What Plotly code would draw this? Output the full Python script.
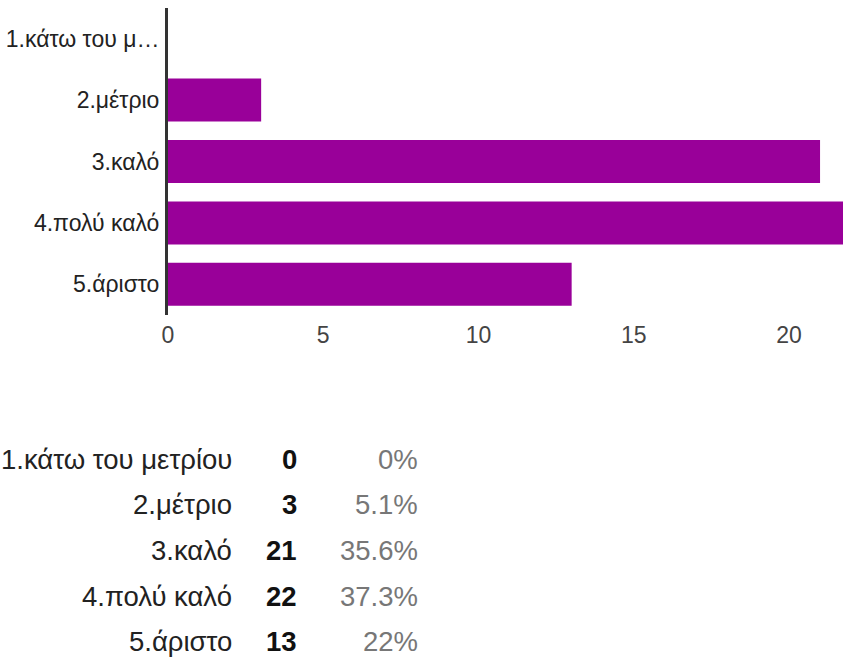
import plotly.graph_objects as go

categories = ["1.κάτω του μετρίου", "2.μέτριο", "3.καλό", "4.πολύ καλό", "5.άριστο"]
axis_labels = ["1.κάτω του μ…", "2.μέτριο", "3.καλό", "4.πολύ καλό", "5.άριστο"]
counts = [0, 3, 21, 22, 13]
percents = ["0%", "5.1%", "35.6%", "37.3%", "22%"]
x_ticks = [0, 5, 10, 15, 20]

W, H = 843, 660
L, R, T, B = 168, 0, 8, 660 - 315
PW, PH = W - L - R, H - T - B

def px_x(p):
    return (p - L) / PW

def px_y(p):
    return (H - B - p) / PH

FONT = "Liberation Sans, Arial, sans-serif"

fig = go.Figure(go.Bar(
    y=categories, x=counts, orientation="h",
    marker=dict(color="#990099", line=dict(width=0)),
    width=0.7, hoverinfo="x+y", cliponaxis=True,
))

ann = []
row_y = [459, 504, 550, 596, 641]
for i, cat in enumerate(categories):
    y = px_y(row_y[i])
    ann.append(dict(x=px_x(234), y=y, xref="paper", yref="paper", text=cat,
                    showarrow=False, xanchor="right", yanchor="middle",
                    font=dict(family=FONT, size=27.5, color="#222222")))
    ann.append(dict(x=px_x(299), y=y, xref="paper", yref="paper", text="<b>%d</b>" % counts[i],
                    showarrow=False, xanchor="right", yanchor="middle",
                    font=dict(family=FONT, size=27.5, color="#111111")))
    ann.append(dict(x=px_x(420), y=y, xref="paper", yref="paper", text=percents[i],
                    showarrow=False, xanchor="right", yanchor="middle",
                    font=dict(family=FONT, size=27.5, color="#777777")))

fig.update_layout(
    width=W, height=H,
    margin=dict(l=L, r=R, t=T, b=B, pad=0),
    paper_bgcolor="white", plot_bgcolor="white",
    showlegend=False,
    bargap=0.3,
    annotations=ann,
    xaxis=dict(range=[0, PW / 31.05], tickvals=x_ticks, showgrid=False, zeroline=False,
               showline=False, ticks="", ticklabelstandoff=4,
               tickfont=dict(family=FONT, size=23, color="#444444")),
    yaxis=dict(categoryorder="array", categoryarray=categories,
               tickvals=categories, ticktext=axis_labels, autorange="reversed",
               showgrid=False, zeroline=False, showline=True, linecolor="#333333", linewidth=3,
               ticks="", ticklabelstandoff=1,
               tickfont=dict(family=FONT, size=23, color="#222222")),
)

fig.write_html("out.html", config={"displayModeBar": False},
               post_script="document.body.style.margin='0';document.body.style.overflow='hidden';")
